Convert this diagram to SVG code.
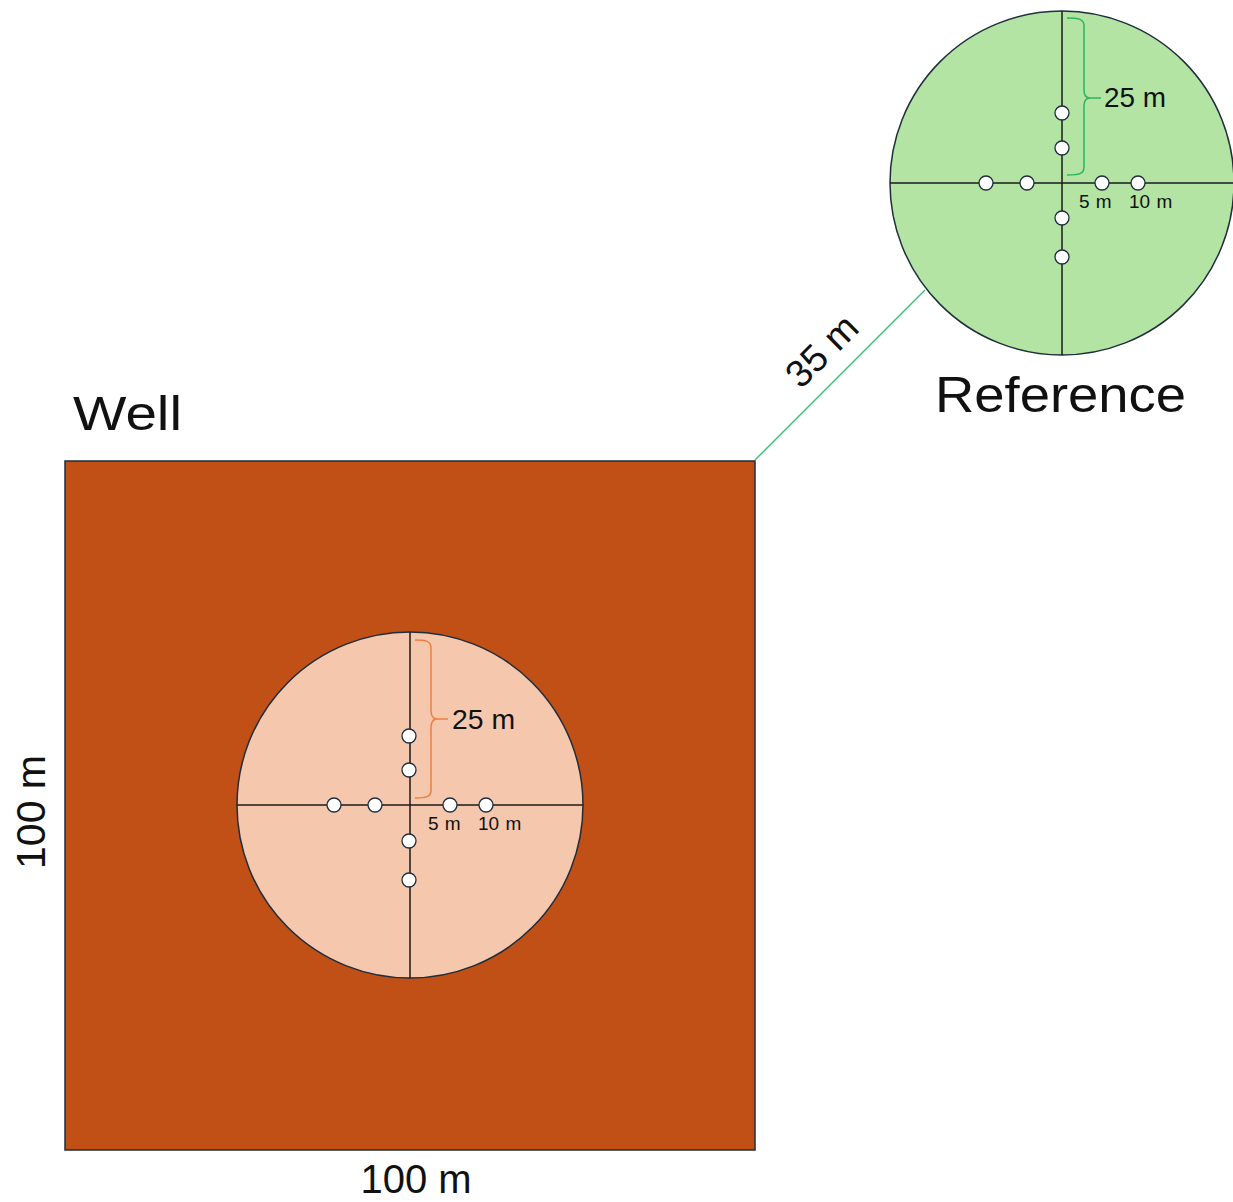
<svg xmlns="http://www.w3.org/2000/svg" width="1233" height="1202" viewBox="0 0 1233 1202">
<style>
.lbl{font-family:"Liberation Sans",Arial,sans-serif;fill:#111}
.sm{font-family:"Liberation Sans",Arial,sans-serif;fill:#111;font-size:19px;word-spacing:1px}
.axis{stroke:#1a1a1a;stroke-width:1.5}
.dot{fill:#fff;stroke:#1f2d3d;stroke-width:1.3}
.outline{stroke:#1f2d3d;stroke-width:1.5}
</style>
<rect width="1233" height="1202" fill="#fff"/>
<g id="connectors">
<line x1="755" y1="460" x2="925" y2="290" stroke="#3cbf78" stroke-width="1.5"/>
<text class="lbl" font-size="38" text-anchor="middle" transform="rotate(-45 831 360)" x="831" y="360">35 m</text>
</g>
<g id="well">
<rect x="65" y="461" width="690" height="689" fill="#c05016" class="outline" stroke-width="1.2"/>
<text class="lbl" x="73" y="430" font-size="48" textLength="109" lengthAdjust="spacingAndGlyphs">Well</text>
<text class="lbl" x="416" y="1193" font-size="40" text-anchor="middle">100 m</text>
<text class="lbl" font-size="41" text-anchor="middle" transform="rotate(-90 45 812)" x="45" y="812">100 m</text>
</g>
<g id="well-plot">
<circle cx="410" cy="805" r="173" fill="#f5c7ad" class="outline"/>
<line class="axis" x1="237" y1="805" x2="583" y2="805"/>
<line class="axis" x1="410" y1="632" x2="410" y2="978"/>
<path d="M415,640 C426,640 431,641 431,648 V710 C431,716 433,719 437,719 H448 M437,719 C433,719 431,722 431,728 V790 C431,797 426,798 415,798" fill="none" stroke="#f07e3e" stroke-width="1.5"/>
<circle class="dot" cx="409" cy="736" r="7"/>
<circle class="dot" cx="409" cy="770" r="7"/>
<circle class="dot" cx="334" cy="805" r="7"/>
<circle class="dot" cx="375" cy="805" r="7"/>
<circle class="dot" cx="450" cy="805" r="7"/>
<circle class="dot" cx="486" cy="805" r="7"/>
<circle class="dot" cx="409" cy="841" r="7"/>
<circle class="dot" cx="409" cy="880" r="7"/>
<text class="lbl" x="452" y="729" font-size="27" textLength="63" lengthAdjust="spacingAndGlyphs">25 m</text>
<text class="sm" x="428" y="830">5 m</text>
<text class="sm" x="478" y="830">10 m</text>
</g>
<g id="reference">
<circle cx="1062" cy="183" r="172" fill="#b3e4a3" class="outline"/>
<line class="axis" x1="890" y1="183" x2="1234" y2="183"/>
<line class="axis" x1="1062" y1="11" x2="1062" y2="355"/>
<path d="M1067,18 C1079,18 1084,19 1084,26 V90 C1084,95 1086,98 1090,98 H1101 M1090,98 C1086,98 1084,101 1084,106 V167 C1084,174 1079,175 1067,175" fill="none" stroke="#2cb55f" stroke-width="1.5"/>
<circle class="dot" cx="1062" cy="113" r="7"/>
<circle class="dot" cx="1062" cy="148" r="7"/>
<circle class="dot" cx="986" cy="183" r="7"/>
<circle class="dot" cx="1027" cy="183" r="7"/>
<circle class="dot" cx="1102" cy="183" r="7"/>
<circle class="dot" cx="1138" cy="183" r="7"/>
<circle class="dot" cx="1062" cy="218" r="7"/>
<circle class="dot" cx="1062" cy="257" r="7"/>
<text class="lbl" x="1104" y="107" font-size="27" textLength="62" lengthAdjust="spacingAndGlyphs">25 m</text>
<text class="sm" x="1079" y="208">5 m</text>
<text class="sm" x="1129" y="208">10 m</text>
<text class="lbl" x="935" y="412" font-size="50" textLength="251" lengthAdjust="spacingAndGlyphs">Reference</text>
</g>
</svg>
